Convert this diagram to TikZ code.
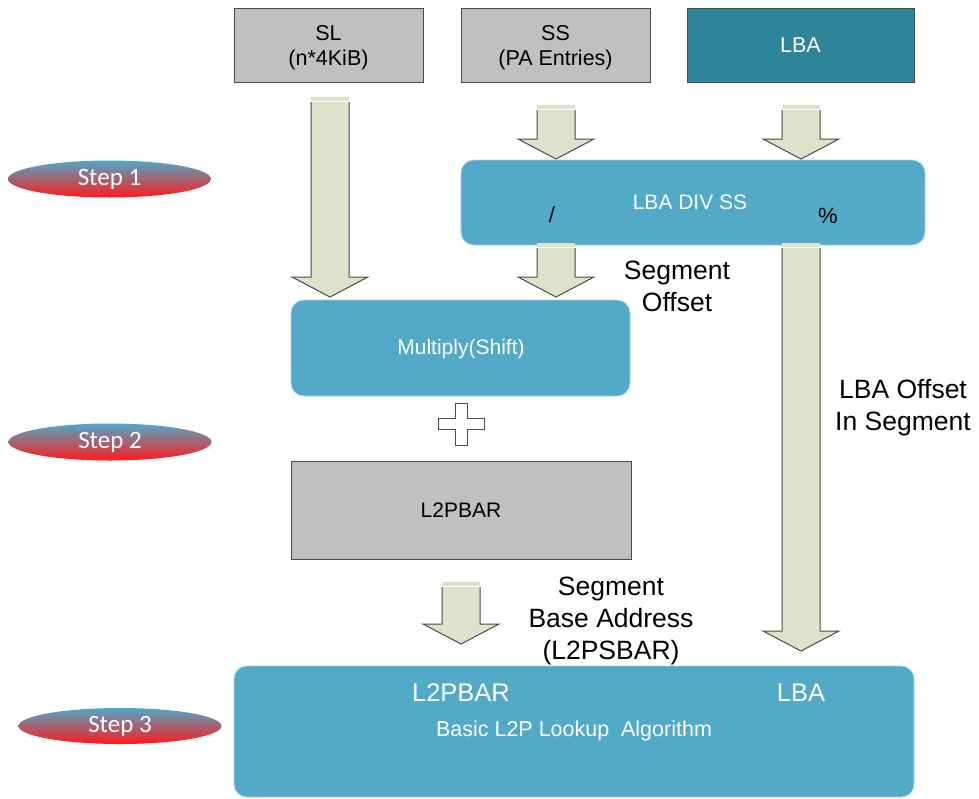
\documentclass[tikz,border=0pt]{standalone}
\usepackage{fontspec}
\setmainfont{Liberation Sans}
\newfontfamily\stepfont{Carlito}
\usetikzlibrary{shapes.geometric,calc}
\definecolor{boxgray}{HTML}{C0C0C0}
\definecolor{edgegray}{HTML}{4A4A4A}
\definecolor{lightblue}{HTML}{52A9C8}
\definecolor{blueedge}{HTML}{A9D3E3}
\definecolor{tealbox}{HTML}{2E8499}
\definecolor{arrfill}{HTML}{DDE2CB}
\definecolor{steptop}{HTML}{4FA8C8}
\definecolor{stepbot}{HTML}{FF1A1A}
\newcommand\blockarr[2]{%
  \fill[arrfill] let \p1=#1, \p2=#2 in
    (\x1-19pt,\y1) -- (\x1+19pt,\y1) -- (\x1+19pt,\y2+20pt) -- (\x1+38pt,\y2+20pt)
    -- (\x1,\y2) -- (\x1-38pt,\y2+20pt) -- (\x1-19pt,\y2+20pt) -- cycle;
  \draw[edgegray,line width=1pt,line join=miter] let \p1=#1, \p2=#2 in
    (\x1-19pt,\y1-5pt) -- (\x1-19pt,\y2+20pt) -- (\x1-38pt,\y2+20pt) -- (\x1,\y2)
    -- (\x1+38pt,\y2+20pt) -- (\x1+19pt,\y2+20pt) -- (\x1+19pt,\y1-5pt);
  \draw[white,line width=1.2pt] let \p1=#1 in (\x1-19pt,\y1-4.5pt) -- (\x1+19pt,\y1-4.5pt);
}
\tikzset{
  graybox/.style={draw=edgegray,line width=1pt,fill=boxgray,inner sep=0pt,align=center,
    font=\fontsize{21}{25}\selectfont},
  toptxt/.style={inner sep=0pt,align=center,font=\fontsize{21.5}{25}\selectfont},
  bluebox/.style={draw=blueedge,line width=0.8pt,fill=lightblue,rounded corners=13pt,inner sep=0pt},
  whitetxt/.style={text=white,inner sep=0pt,font=\fontsize{21}{25}\selectfont},
  blacktxt/.style={text=black,inner sep=0pt,font=\fontsize{22}{25}\selectfont},
  labeltxt/.style={text=black,inner sep=0pt,align=center,font=\fontsize{26.5}{32}\selectfont},
  stepell/.style={ellipse,top color=steptop,bottom color=stepbot,inner sep=0pt,
    minimum width=203pt,minimum height=37pt,text=white,font=\stepfont\fontsize{25}{28}\selectfont},
}
\begin{document}
\begin{tikzpicture}[x=1pt,y=-1pt]
\useasboundingbox (0,0) rectangle (979,798);
\clip (0,0) rectangle (979,798);
\fill[white] (0,0) rectangle (979,798);

% top boxes
\node[graybox,minimum width=189pt,minimum height=74pt] (sl) at (328.5,45) {};
\node[toptxt] (sltxt) at (328.5,47.5) {SL\\(n*4KiB)};
\node[graybox,minimum width=189pt,minimum height=74pt] (ss) at (555.5,45) {};
\node[toptxt] (sstxt) at (555.5,47.5) {SS\\(PA Entries)};
\node[graybox,fill=tealbox,minimum width=227pt,minimum height=74pt] (lba) at (800.5,45) {};
\node[toptxt,text=white] (lbatxt) at (800.5,45.5) {LBA};

% division box
\node[bluebox,minimum width=464pt,minimum height=85pt] (div) at (693,202.5) {};
\node[whitetxt] (divtxt) at (690,202) {LBA DIV SS};
\node[blacktxt] (slash) at (552,215) {/};
\node[blacktxt] (pct) at (828,216) {\%};

% multiply box
\node[bluebox,minimum width=339pt,minimum height=96pt] (mul) at (460.5,348) {};
\node[whitetxt] (multxt) at (461,349) {Multiply(Shift)};

% plus sign
\draw[edgegray,fill=white,line width=1pt] (455,403) -- (467,403) -- (467,418) -- (484,418) -- (484,429)
  -- (467,429) -- (467,445) -- (455,445) -- (455,429) -- (438,429) -- (438,418) -- (455,418) -- cycle;

% L2PBAR box
\node[graybox,minimum width=340pt,minimum height=98pt] (bar) at (461,510) {L2PBAR};

% bottom box
\path[bluebox] (234,666) rectangle (914,797);
\node[whitetxt,font=\fontsize{25.5}{28}\selectfont] (botbar) at (461,693) {L2PBAR};
\node[whitetxt,font=\fontsize{25.5}{28}\selectfont] (botlba) at (801,693) {LBA};
\node[whitetxt,font=\fontsize{21.5}{25}\selectfont] (bottxt) at (574,731) {Basic L2P Lookup\hspace{0.55em}Algorithm};

% arrow end points
\coordinate (a1s) at (330,97);  \coordinate (a1e) at (330,297);
\coordinate (a2s) at (556,105); \coordinate (a2e) at (556,159);
\coordinate (a3s) at (801,105); \coordinate (a3e) at (801,159);
\coordinate (a4s) at (556,243); \coordinate (a4e) at (556,297);
\coordinate (a5s) at (801,243); \coordinate (a5e) at (801,651);
\coordinate (a6s) at (461,582); \coordinate (a6e) at (461,644);
\blockarr{(a1s)}{(a1e)}
\blockarr{(a2s)}{(a2e)}
\blockarr{(a3s)}{(a3e)}
\blockarr{(a4s)}{(a4e)}
\blockarr{(a5s)}{(a5e)}
\blockarr{(a6s)}{(a6e)}

% labels
\node[labeltxt] (segoff) at (677,286) {Segment\\Offset};
\node[labeltxt] (lbaoff) at (903,408) {LBA Offset\\In Segment};
\node[labeltxt] (segbase) at (611,621) {Segment\\Base Address\\(L2PSBAR)};

% steps
\node[stepell] (step1) at (109.5,179) {Step 1};
\node[stepell] (step2) at (110,442) {Step 2};
\node[stepell,minimum height=36pt] (step3) at (120,726) {Step 3};
\end{tikzpicture}
\end{document}
